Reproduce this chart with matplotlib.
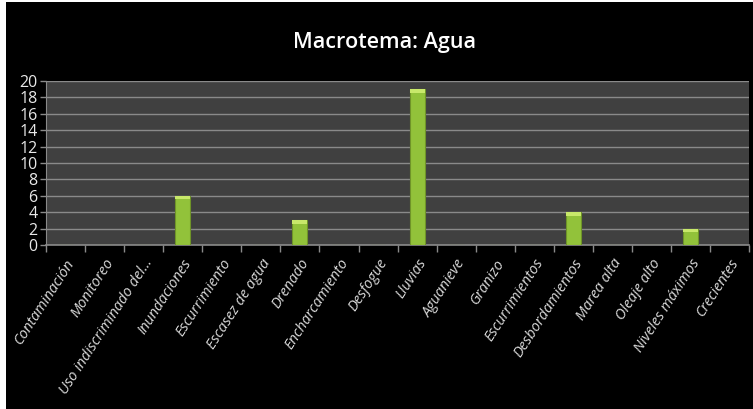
import matplotlib
matplotlib.use("Agg")
import matplotlib.pyplot as plt
from matplotlib.patches import Rectangle
import numpy as np

categories = ["Contaminación", "Monitoreo", "Uso indiscriminado del...", "Inundaciones",
              "Escurrimiento", "Escasez de agua", "Drenado", "Encharcamiento", "Desfogue",
              "Lluvias", "Aguanieve", "Granizo", "Escurrimientos", "Desbordamientos",
              "Marea alta", "Oleaje alto", "Niveles máximos", "Crecientes"]
values = [0, 0, 0, 6, 0, 0, 3, 0, 0, 19, 0, 0, 0, 4, 0, 0, 2, 0]
yticks = list(range(0, 21, 2))
title = "Macrotema: Agua"

plt.rcParams['font.family'] = ['Open Sans', 'DejaVu Sans']

fig = plt.figure(figsize=(7.53, 4.09), dpi=100, facecolor='black')
# white strip on the left and top edges of the image
fig.patches.append(Rectangle((0, 0), 6 / 753, 1, transform=fig.transFigure,
                             facecolor='white', edgecolor='none', zorder=10))
fig.patches.append(Rectangle((0, 1 - 1.5 / 409), 1, 1.5 / 409, transform=fig.transFigure,
                             facecolor='white', edgecolor='none', zorder=10))

ax = fig.add_axes([0.061, 0.401, 0.934, 0.401])
ax.set_facecolor('#404040')

x = np.arange(len(categories))
ax.bar(x, values, width=0.38, color='#92c23a', edgecolor='#6f9428', linewidth=0.8, zorder=3)
# highlight on top of bars
for xi, v in zip(x, values):
    if v > 0:
        ax.bar(xi, 0.45, bottom=v - 0.45, width=0.38, color='#c8e86a', linewidth=0, zorder=4)

ax.set_xlim(-0.5, len(categories) - 0.5)
ax.set_ylim(0, 20)
ax.set_yticks(yticks)
ax.set_yticklabels([str(t) for t in yticks], color='#e8e8e8', fontsize=11.5)
ax.yaxis.grid(True, color='#8a8a8a', linewidth=1.0, zorder=1)
ax.set_axisbelow(True)

ax.set_xticks(np.arange(-0.5, len(categories), 1.0), minor=False)
ax.set_xticklabels([])
ax.set_xticks(x, minor=True)
ax.set_xticklabels(categories, minor=True, rotation=57, ha='right', rotation_mode='anchor',
                   color='#d9d9d9', fontsize=10.5, style='italic')
ax.tick_params(axis='x', which='minor', length=0, pad=8)
ax.tick_params(axis='x', which='major', length=5, color='#8a8a8a', width=1)
ax.tick_params(axis='y', length=4, color='#8a8a8a', width=1, pad=2)

for s in ['top', 'right']:
    ax.spines[s].set_visible(False)
ax.spines['left'].set_color('#8a8a8a')
ax.spines['bottom'].set_color('#8a8a8a')
ax.spines['bottom'].set_linewidth(1.2)

fig.text(0.51, 0.897, title, ha='center', va='center', color='white', fontsize=15.5,
         weight='semibold')

fig.savefig('out.png', dpi=100, facecolor='black')
